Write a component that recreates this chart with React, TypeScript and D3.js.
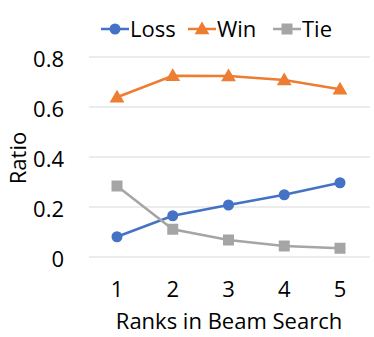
import React from "react";
import * as d3 from "d3";

const ranks = ["1", "2", "3", "4", "5"];
const loss = [0.081, 0.165, 0.208, 0.249, 0.297];
const win = [0.639, 0.725, 0.724, 0.708, 0.671];
const tie = [0.284, 0.111, 0.068, 0.044, 0.035];
const yTicks = [0, 0.2, 0.4, 0.6, 0.8];

const series = [
  { name: "Loss", values: loss, color: "#4472C4", marker: "circle" },
  { name: "Win", values: win, color: "#ED7D31", marker: "triangle" },
  { name: "Tie", values: tie, color: "#A5A5A5", marker: "square" },
];

const font = "'Open Sans', sans-serif";
const fs = 22;

function Marker({ type, x, y, color }: { type: string; x: number; y: number; color: string }) {
  if (type === "circle") return <circle cx={x} cy={y} r={5.5} fill={color} />;
  if (type === "square") return <rect x={x - 5.5} y={y - 5.5} width={11} height={11} fill={color} />;
  const sym = d3.symbol(d3.symbolTriangle, 95)();
  return <path d={sym as string} transform={`translate(${x},${y + 1})`} fill={color} />;
}

export default function App() {
  const width = 374;
  const height = 337;
  const left = 89;
  const right = 370;

  const x = d3.scalePoint().domain(ranks).range([117, 340]);
  const y = d3.scaleLinear().domain([0, 0.8]).range([257, 57]);

  const line = d3
    .line<number>()
    .x((_, i) => x(ranks[i]) as number)
    .y((d) => y(d));

  const legendX = [101, 188, 273];

  return (
    <svg
      width={width}
      height={height}
      style={{ position: "absolute", left: 0, top: 0, background: "#fff" }}
      fontFamily={font}
    >
      {yTicks.map((t) => (
        <g key={t}>
          <line x1={left} x2={right} y1={y(t)} y2={y(t)} stroke="#d9d9d9" strokeWidth={1} />
          <text x={64} y={y(t) + 2} dy="0.35em" textAnchor="end" fontSize={fs} fill="#000">
            {t === 0 ? "0" : t.toFixed(1)}
          </text>
        </g>
      ))}
      {ranks.map((r) => (
        <text key={r} x={x(r)} y={297} textAnchor="middle" fontSize={fs} fill="#000">
          {r}
        </text>
      ))}
      <text x={229} y={329} textAnchor="middle" fontSize={fs} fill="#000">
        Ranks in Beam Search
      </text>
      <text
        transform={`translate(26,158) rotate(-90)`}
        textAnchor="middle"
        fontSize={fs}
        fill="#000"
      >
        Ratio
      </text>
      {series.map((s) => (
        <g key={s.name}>
          <path d={line(s.values) as string} fill="none" stroke={s.color} strokeWidth={2.5} />
          {s.values.map((v, i) => (
            <Marker key={i} type={s.marker} x={x(ranks[i]) as number} y={y(v)} color={s.color} />
          ))}
        </g>
      ))}
      {series.map((s, i) => (
        <g key={s.name} transform={`translate(${legendX[i]},29)`}>
          <line x1={0} x2={28} y1={0} y2={0} stroke={s.color} strokeWidth={2.5} />
          <Marker type={s.marker} x={14} y={0} color={s.color} />
          <text x={29} y={0} dy="0.35em" fontSize={fs} fill="#000">
            {s.name}
          </text>
        </g>
      ))}
    </svg>
  );
}
